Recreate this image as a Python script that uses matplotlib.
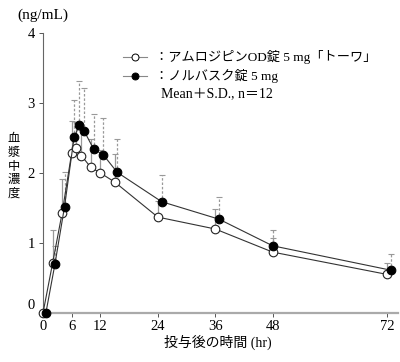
import matplotlib
matplotlib.use("Agg")
import matplotlib.pyplot as plt
import matplotlib.transforms as mtransforms
from matplotlib.lines import Line2D
import numpy as np

plt.rcParams['font.family'] = ['Liberation Serif', 'Noto Sans CJK JP', 'DejaVu Sans']

# time points (hr) as placed in the chart; reference product is dodged slightly right
t_od = [0, 2, 4, 6, 7, 8, 10, 12, 15, 24, 36, 48, 72]
t_ref = [0.6, 2.5, 4.5, 6.5, 7.6, 8.6, 10.6, 12.6, 15.5, 24.8, 36.8, 48.0, 72.8]

# mean plasma concentration (ng/mL)
mean_od = [0, 0.71, 1.43, 2.29, 2.36, 2.25, 2.08, 2.00, 1.87, 1.37, 1.20, 0.87, 0.55]
mean_ref = [0, 0.70, 1.52, 2.51, 2.68, 2.60, 2.34, 2.26, 2.01, 1.59, 1.34, 0.96, 0.61]

# mean + S.D. (top of each error bar)
top_od = [0, 1.18, 1.91, 2.74, 2.73, 2.62, 2.48, 2.33, 2.27, 1.60, 1.48, 1.07, 0.71]
top_ref = [0, 0.95, 2.02, 3.05, 3.32, 3.21, 2.84, 2.78, 2.48, 1.97, 1.66, 1.18, 0.84]

x_ticks = [0, 6, 12, 24, 36, 48, 72]
y_ticks = [0, 1, 2, 3, 4]

label_od = '：アムロジピンOD錠 5 mg「トーワ」'
label_ref = '：ノルバスク錠 5 mg'
note = 'Mean＋S.D., n＝12'
y_title = '血漿中濃度'

fig = plt.figure(figsize=(4, 3.62), dpi=100)
ax = fig.add_axes([0.1075, 0.1354, 0.8875, 0.7734])

sd_od = np.array(top_od) - np.array(mean_od)
sd_ref = np.array(top_ref) - np.array(mean_ref)

# error bars (upper only)
eb1 = ax.errorbar(t_od, mean_od, yerr=[np.zeros(len(sd_od)), sd_od], fmt='none',
                  ecolor='#999999', elinewidth=0.9, capsize=2.2, capthick=0.8, zorder=2)
eb2 = ax.errorbar(t_ref, mean_ref, yerr=[np.zeros(len(sd_ref)), sd_ref], fmt='none',
                  ecolor='#999999', elinewidth=0.9, capsize=2.2, capthick=0.8, zorder=2)
eb2[2][0].set_linestyle((0, (2, 1.5)))

ax.plot(t_od, mean_od, '-', color='#333333', lw=0.8, marker='o', ms=6.2,
        mfc='white', mec='#222222', mew=0.8, zorder=3, clip_on=False)
ax.plot(t_ref, mean_ref, '-', color='#333333', lw=0.8, marker='o', ms=6.2,
        mfc='black', mec='black', mew=0.8, zorder=4, clip_on=False)

ax.set_xlim(0, 74.2)
ax.set_ylim(0, 4)
ax.set_xticks(x_ticks)
ax.set_yticks(y_ticks)
ax.tick_params(axis='both', direction='out', length=3, width=0.7, colors='#555555',
               labelcolor='black', labelsize=10.5)
ax.tick_params(axis='x', pad=2)
ax.tick_params(axis='y', pad=3)
for s in ['top', 'right']:
    ax.spines[s].set_visible(False)
ax.spines['left'].set_color('#666666')
ax.spines['left'].set_linewidth(0.8)
ax.spines['bottom'].set_color('#aaaaaa')
ax.spines['bottom'].set_linewidth(1.6)

# lift the "0" label a little above the x axis, as in the original
lbl0 = ax.get_yticklabels()[0]
lbl0.set_transform(lbl0.get_transform() +
                   mtransforms.ScaledTranslation(0, 9 / 100, fig.dpi_scale_trans))

fig.text(0.1075, 0.958, '(ng/mL)', ha='center', va='center', fontsize=11)

# vertical stacked y title, one character per row
for i, ch in enumerate(y_title):
    fig.text(0.035, 0.615 - i * 0.0375, ch, ha='center', va='center', fontsize=8.8)

fig.text(0.545, 0.055, '投与後の時間 (hr)', ha='center', va='center', fontsize=10)

# legend drawn by hand
for y, fc in [(0.8425, 'white'), (0.7887, 'black')]:
    fig.add_artist(Line2D([0.3075, 0.3675], [y, y], transform=fig.transFigure,
                          color='#888888', lw=0.8))
    fig.add_artist(Line2D([0.3375], [y], transform=fig.transFigure, marker='o',
                          ms=5, mfc=fc, mec='black', mew=0.7, lw=0))
fig.text(0.3875, 0.8425, label_od, ha='left', va='center', fontsize=9.5)
fig.text(0.3875, 0.7887, label_ref, ha='left', va='center', fontsize=9.5)
fig.text(0.4025, 0.7403, note, ha='left', va='center', fontsize=10)

fig.savefig('out.png', dpi=100)
